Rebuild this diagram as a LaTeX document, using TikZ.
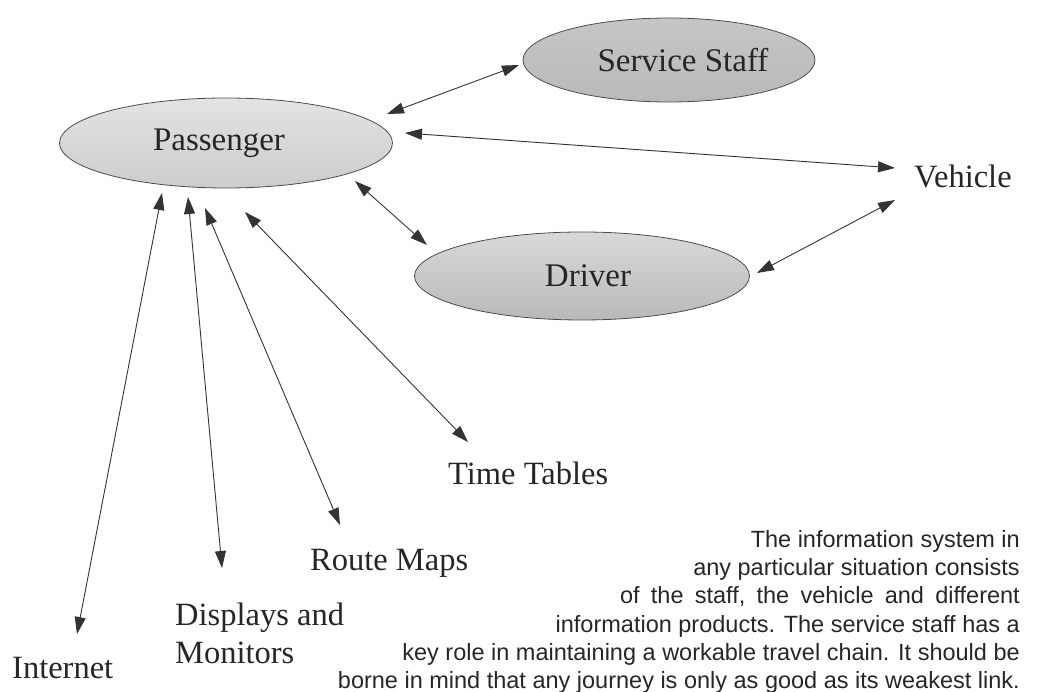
\documentclass[tikz,border=0pt]{standalone}
\usepackage{fontspec}
\setmainfont{Liberation Serif}
\newfontfamily\parasans{Liberation Sans}
\usetikzlibrary{shapes.geometric,arrows.meta}
\begin{document}
\begin{tikzpicture}[x=1pt,y=-1pt,
  ell/.style={ellipse,draw=black!70,line width=0.8pt,inner sep=0pt,
    font=\fontsize{33}{38}\selectfont,text=black!85},
  lbl/.style={anchor=base west,inner sep=0pt,font=\fontsize{32.5}{38}\selectfont,text=black!85},
  para/.style={anchor=base east,inner sep=0pt,font=\parasans\fontsize{23.5}{27}\selectfont,text=black!85},
  link/.style={<->,>={Triangle[length=17pt,width=11pt]},line width=0.9pt,draw=black!80}]
\useasboundingbox (0,0) rectangle (1050,692);

\node[ell,minimum width=333pt,minimum height=90pt,top color=gray!22,middle color=white,bottom color=gray!40] (P) at (226,143) {Passenger\hspace*{14pt}};
\node[ell,minimum width=292pt,minimum height=84pt,top color=gray!45,middle color=white,bottom color=gray!55] (S) at (669,60) {\hspace*{28pt}Service Staff};
\node[ell,minimum width=335pt,minimum height=88pt,top color=gray!30,middle color=white,bottom color=gray!55] (D) at (582,276) {\hspace*{12pt}Driver};

\node[lbl] (V) at (914,188) {Vehicle};
\node[lbl] (T) at (448,485) {Time Tables};
\node[lbl] (R) at (310,570) {Route Maps};
\node[lbl] (DA) at (175,625) {Displays and};
\node[lbl] (M) at (175,663) {Monitors};
\node[lbl] (I) at (12,678) {Internet};

\node[para] (l1) at (1020,547) {The information system in};
\node[para] (l2) at (1020,575) {any particular situation consists};
\node[para] (l3) at (1020,603.5) {of\hspace{0.2em} the\hspace{0.2em} staff,\hspace{0.2em} the\hspace{0.2em} vehicle\hspace{0.2em} and\hspace{0.2em} different};
\node[para] (l4) at (1020,632) {information products. The service staff has a};
\node[para] (l5) at (1020,660) {key role in maintaining a workable travel chain. It should be};
\node[para] (l6) at (1020,688) {borne in mind that any journey is only as good as its weakest link.};

% connector endpoints
\coordinate (pS) at (387,114);
\coordinate (sP) at (519,65);
\coordinate (pV) at (405,133);
\coordinate (vP) at (895,168);
\coordinate (pD) at (355,181);
\coordinate (dP) at (427,245);
\coordinate (dV) at (757,273);
\coordinate (vD) at (895,200);
\coordinate (pT) at (245,212);
\coordinate (tP) at (468,442);
\coordinate (pR) at (205,208);
\coordinate (rP) at (340,525);
\coordinate (pM) at (188,197);
\coordinate (mP) at (222,568);
\coordinate (pI) at (162,193);
\coordinate (iP) at (77,634);

\draw[link] (pS) -- (sP);
\draw[link] (pV) -- (vP);
\draw[link] (pD) -- (dP);
\draw[link] (dV) -- (vD);
\draw[link] (pT) -- (tP);
\draw[link] (pR) -- (rP);
\draw[link] (pM) -- (mP);
\draw[link] (pI) -- (iP);
\end{tikzpicture}
\end{document}
